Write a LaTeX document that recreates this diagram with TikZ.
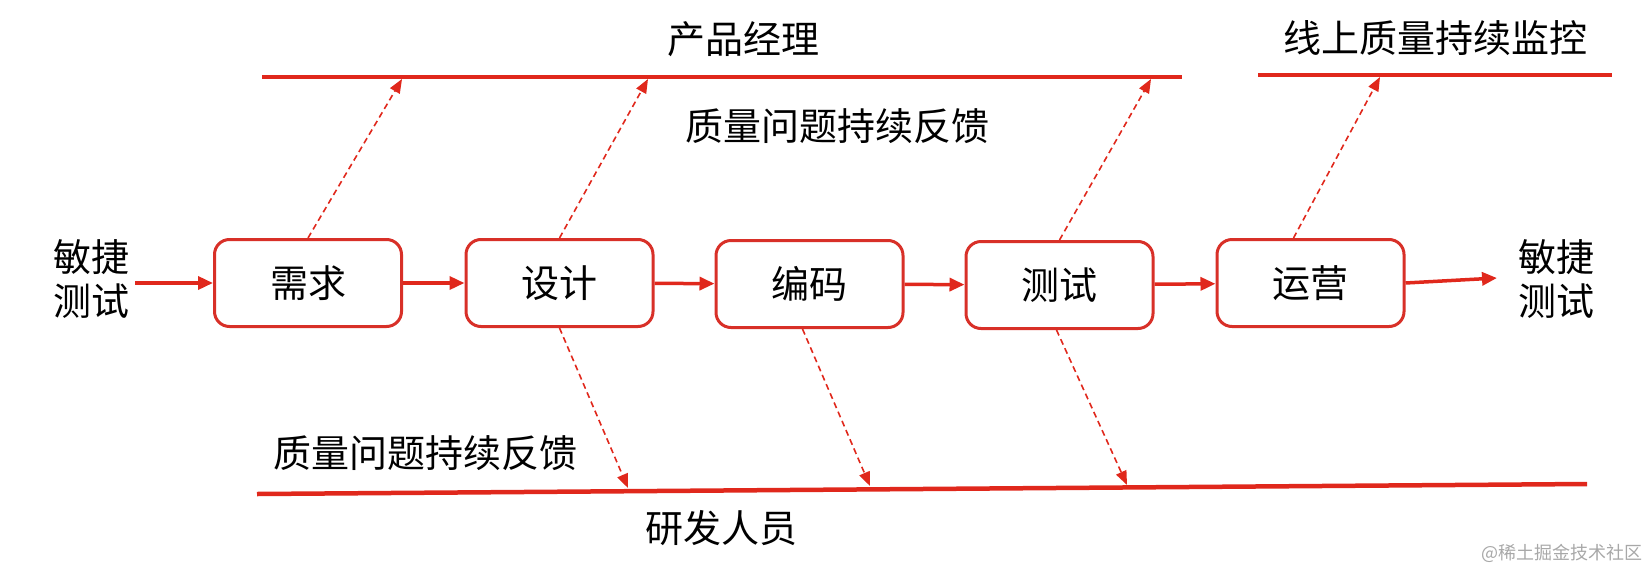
\documentclass[tikz,border=0pt]{standalone}
\usepackage{fontspec}
\setmainfont{Noto Sans CJK SC}
\usetikzlibrary{arrows.meta,positioning}
\definecolor{flowred}{HTML}{E0281C}
\definecolor{boxred}{HTML}{D83028}
\definecolor{markgray}{HTML}{A8A8A8}

\begin{document}
\begin{tikzpicture}[x=1pt, y=-1pt,
    stage/.style={draw=boxred, line width=3pt, rounded corners=15pt, minimum width=187pt, minimum height=87pt, inner sep=0pt, font=\fontsize{38}{44}\selectfont},
    trans/.style={-{Triangle[length=15pt, width=13pt]}, line width=3.5pt, color=flowred},
    fb/.style={-{Triangle[length=14pt, width=11pt]}, line width=1.6pt, dash pattern=on 6pt off 4pt, color=flowred},
    bar/.style={line width=4.5pt, color=flowred},
    label/.style={font=\fontsize{38}{44}\selectfont, align=center, inner sep=0pt},
]
\useasboundingbox (0,0) rectangle (1648,573);

% process stages
\node[stage] (req) at (308, 283) {需求};
\node[stage] (design) at (559.5, 283) {设计};
\node[stage] (code) at (809.5, 284) {编码};
\node[stage] (test) at (1059.5, 285) {测试};
\node[stage] (ops) at (1310.5, 283) {运营};

\node[label] (agileL) at (91, 279) {敏捷\\测试};
\node[label] (agileR) at (1556, 279) {敏捷\\测试};
\coordinate (outR) at (1497, 278);

\draw[trans] (agileL.east |- req.west) ++(6,0) -- (req.west);
\draw[trans] (req) -- (design);
\draw[trans] (design) -- (code);
\draw[trans] (code) -- (test);
\draw[trans] (test) -- (ops);
\draw[trans] (ops.east) -- (outR);

% product manager side
\coordinate (pmL) at (262, 77);
\coordinate (pmR) at (1182, 77);
\coordinate (monL) at (1258, 75);
\coordinate (monR) at (1612, 75);
\draw[bar] (pmL) -- (pmR);
\draw[bar] (monL) -- (monR);
\node[label] (pm) at (743, 39) {产品经理};
\node[label] (mon) at (1435, 38) {线上质量持续监控};
\node[label] (fbTop) at (837, 126) {质量问题持续反馈};

\coordinate (pm1) at (402, 79);
\coordinate (pm2) at (648, 79);
\coordinate (pm3) at (1151, 79);
\coordinate (mon1) at (1380, 77);
\draw[fb] (req.north) -- (pm1);
\draw[fb] (design.north) -- (pm2);
\draw[fb] (test.north) -- (pm3);
\draw[fb] ([xshift=-17pt]ops.north) -- (mon1);

% developer side
\coordinate (devL) at (257, 494);
\coordinate (devR) at (1587, 484);
\draw[bar] (devL) -- (devR);
\node[label] (fbBot) at (425, 453) {质量问题持续反馈};
\node[label] (dev) at (721, 528) {研发人员};

\coordinate (dev1) at (628, 488);
\coordinate (dev2) at (870, 486);
\coordinate (dev3) at (1127, 485);
\draw[fb] (design.south) -- (dev1);
\draw[fb] ([xshift=-7pt]code.south) -- (dev2);
\draw[fb] ([xshift=-3pt]test.south) -- (dev3);

\node[font=\fontsize{18}{20}\selectfont, color=markgray, inner sep=0pt] (mark) at (1562, 553) {@稀土掘金技术社区};
\end{tikzpicture}
\end{document}
